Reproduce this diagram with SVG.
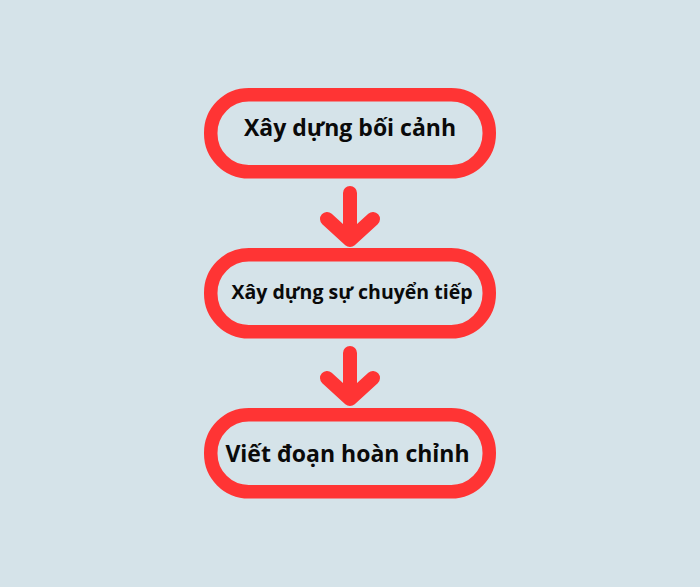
<svg xmlns="http://www.w3.org/2000/svg" width="700" height="587" viewBox="0 0 700 587">
<style>
.box{fill:none;stroke:#ff3434;stroke-width:13.5}
.arr{fill:none;stroke:#ff3434;stroke-width:14;stroke-linecap:round;stroke-linejoin:round}
.t{font-family:"Open Sans","Noto Sans",sans-serif;font-weight:bold;fill:#0a0a0a;text-anchor:middle}
</style>
<rect width="700" height="587" fill="#d5e3e9"/>
<g id="connectors">
<path class="arr" d="M350 193V239M327 219L350 240L373 219"/>
<path class="arr" d="M350 353V398M327 378L350 399L373 378"/>
</g>
<g id="node1">
<rect class="box" x="210.75" y="94.75" width="278.5" height="77" rx="38"/>
<text class="t" x="350" y="136" font-size="23">Xây dựng bối cảnh</text>
</g>
<g id="node2">
<rect class="box" x="210.75" y="254.75" width="278.5" height="77" rx="38"/>
<text class="t" x="352" y="299" font-size="19.5">Xây dựng sự chuyển tiếp</text>
</g>
<g id="node3">
<rect class="box" x="210.75" y="414.75" width="278.5" height="77" rx="38"/>
<text class="t" x="347.5" y="462" font-size="23">Viết đoạn hoàn chỉnh</text>
</g>
</svg>
